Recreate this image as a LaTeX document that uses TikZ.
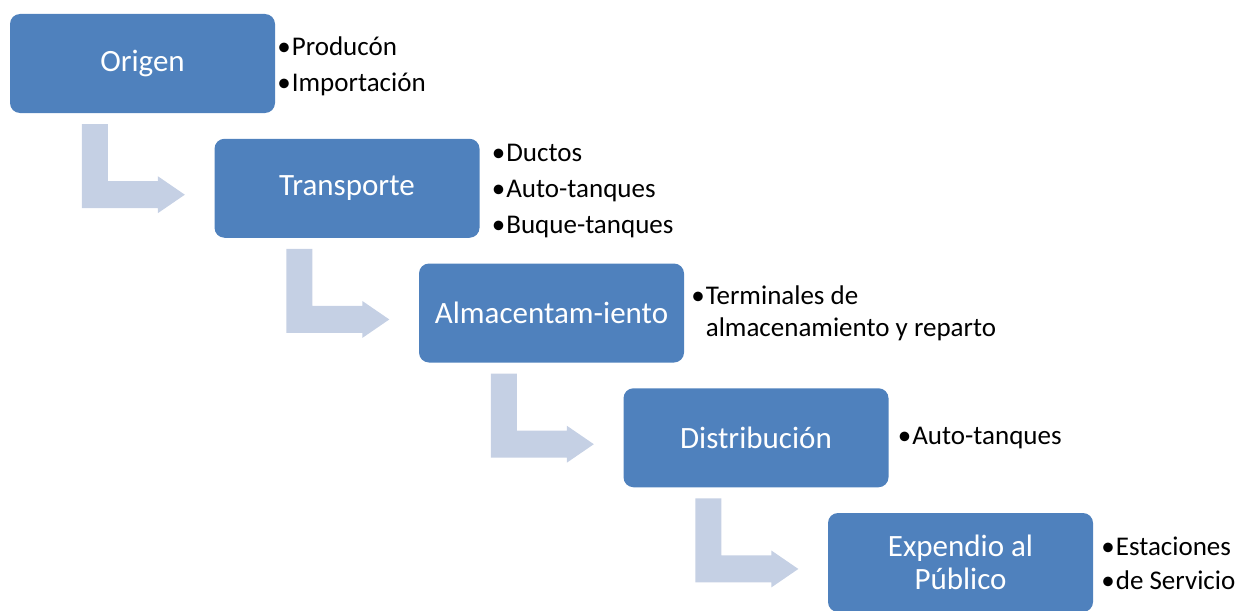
\documentclass[tikz,border=0pt]{standalone}
\usepackage{fontspec}
\setmainfont{Carlito}
\usetikzlibrary{calc,positioning}
\definecolor{cajaazul}{RGB}{79,129,189}
\definecolor{flechaazul}{RGB}{197,208,228}
\newcommand{\vineta}{•\hspace{1pt}}
\tikzset{
    caja/.style={
           rectangle, rounded corners=10pt,
           fill=cajaazul, text=white,
           minimum width=265pt, minimum height=99pt,
           inner sep=0pt, align=center,
           font=\fontsize{31}{33}\selectfont},
    lista/.style={
           inner sep=0pt, align=left, yshift=-3pt,
           font=\fontsize{27}{36}\selectfont},
    flecha/.style={
           fill=flechaazul, draw=none}
}
\begin{document}
\begin{tikzpicture}[x=1pt,y=-1pt]
          \useasboundingbox (0,0) rectangle (1241,610);
          \node[caja](origen) at (142.5,63.5) {Origen};
          \node[caja](transporte) at (347,188.25) {Transporte};
          \node[caja](almacen) at (551.5,313) {Almacentam-iento};
          \node[caja](distrib) at (756,437.75) {Distribución};
          \node[caja](expendio) at (960.5,562.5) {Expendio al\\Público};
          \node[lista, right=2pt of origen](lorigen) {\vineta Producón\\\vineta Importación};
          \node[lista, right=12pt of transporte](ltransporte) {\vineta Ductos\\\vineta Auto-tanques\\\vineta Buque-tanques};
          \node[lista, right=7pt of almacen, yshift=3pt, font=\fontsize{27}{32}\selectfont](lalmacen) {\vineta Terminales de\\\hphantom{\vineta}almacenamiento y reparto};
          \node[lista, right=9pt of distrib, yshift=3pt](ldistrib) {\vineta Auto-tanques};
          \node[lista, right=8pt of expendio, yshift=2pt, font=\fontsize{27}{34}\selectfont](lexpendio) {\vineta Estaciones\\\vineta de Servicio};
          \foreach \a in {origen,transporte,almacen,distrib} {
            \fill[flecha] ($(\a.south west)+(72,11)$) -- ++(26,0) -- ++(0,57) -- ++(50,0) -- ++(0,-5)
                -- ++(27,18.5) -- ++(-27,18.5) -- ++(0,-5) -- ++(-76,0) -- cycle;
          }
\end{tikzpicture}
\end{document}
